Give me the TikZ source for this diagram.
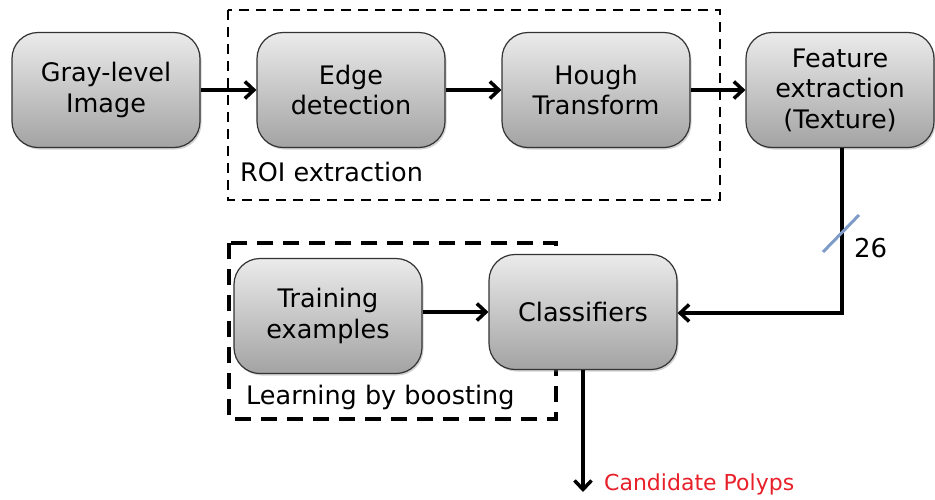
\documentclass[tikz,border=0pt]{standalone}
\usepackage{fontspec}
\setmainfont{DejaVu Sans}
\usetikzlibrary{arrows.meta,shadows}
\definecolor{topg}{HTML}{EBEBEB}
\definecolor{botg}{HTML}{A3A3A3}
\definecolor{slashblue}{HTML}{7F9CC8}
\definecolor{candred}{HTML}{E8202A}
\tikzset{
  procbox/.style={draw=black!80, line width=1.2pt, rounded corners=26pt,
    minimum width=188pt, minimum height=115pt, top color=topg, bottom color=botg,
    align=center, font=\fontsize{25.5}{30.5}\selectfont, inner sep=0pt,
    drop shadow={shadow xshift=1.5pt, shadow yshift=-2pt, opacity=0.35}},
  flow/.style={line width=4pt, -{Straight Barb[length=9pt,width=17pt,line width=3.5pt]}},
  roibox/.style={draw, line width=2.2pt, dash pattern=on 10pt off 7pt},
  learnbox/.style={draw, line width=3.8pt, dash pattern=on 16pt off 10pt},
  grouplabel/.style={anchor=west, font=\fontsize{25.5}{28}\selectfont, inner sep=0pt},
}
\begin{document}
\begin{tikzpicture}[x=1pt,y=-1pt]
\useasboundingbox (0,0) rectangle (935,499);
\fill[white] (0,0) rectangle (935,499);
% group frames
\draw[roibox] (228,10) rectangle (720,200);
\draw[learnbox] (229,243) rectangle (556,419);
% nodes
\node[procbox] (gray) at (106,90) {Gray-level\\Image};
\node[procbox] (edge) at (351,90) {Edge\\detection};
\node[procbox] (hough) at (596,90) {Hough\\Transform};
\node[procbox] (feat) at (840,90) {Feature\\extraction\\(Texture)};
\node[procbox] (train) at (328,316) {Training\\examples};
\node[procbox] (cls) at (583,312) {Classifiers};
\node[grouplabel] (roilab) at (240,172) {ROI extraction};
\node[grouplabel] (learnlab) at (246,397) {Learning by boosting};
\coordinate (corner) at (842,313);
\coordinate (out) at (583,492);
\node[anchor=west, text=candred, font=\fontsize{22}{24}\selectfont, inner sep=0pt] (cand) at (604,484) {Candidate Polyps};
% connectors
\draw[flow] (gray.east) -- (edge.west);
\draw[flow] (edge.east) -- (hough.west);
\draw[flow] (hough.east) -- (feat.west);
\draw[flow, line join=miter] (feat.south -| corner) -- (corner) -- (cls.east |- corner);
\draw[flow] (train.east |- cls) -- (cls.west);
\draw[flow] (cls.south) -- (out);
% bus width mark
\coordinate (sl1) at (823,252);
\coordinate (sl2) at (859,215);
\draw[slashblue, line width=3pt] (sl1) -- (sl2);
\node[anchor=west, font=\fontsize{26}{28}\selectfont, inner sep=0pt] (n26) at (854,248) {26};
\end{tikzpicture}
\end{document}
